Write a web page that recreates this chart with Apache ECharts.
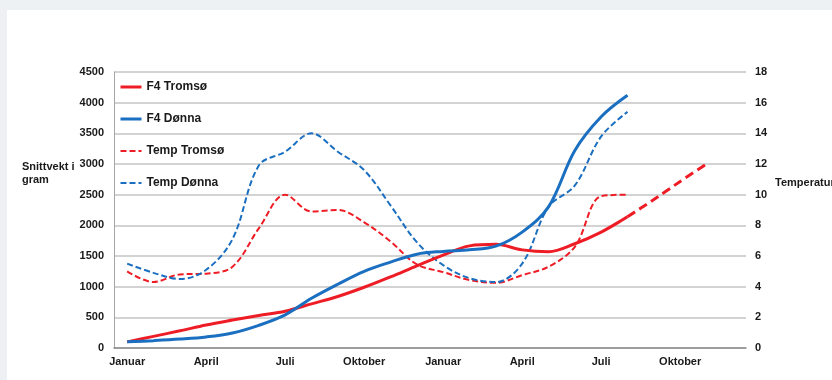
<!DOCTYPE html>
<html>
<head>
<meta charset="utf-8">
<script src="https://cdn.jsdelivr.net/npm/echarts@6/dist/echarts.min.js"></script>
<style>
  html, body { margin: 0; padding: 0; background: #eef1f4; }
  #chart { width: 832px; height: 380px; }
</style>
</head>
<body>
<div id="chart"></div>
<script>
// Two years of months along the x axis
const months = [
  'Januar', 'Februar', 'Mars', 'April', 'Mai', 'Juni', 'Juli', 'August',
  'September', 'Oktober', 'November', 'Desember',
  'Januar', 'Februar', 'Mars', 'April', 'Mai', 'Juni', 'Juli', 'August',
  'September', 'Oktober', 'November', 'Desember'
];

// Average weight (gram)
const f4Tromso = [100, 190, 280, 375, 455, 530, 600, 720, 840, 990, 1160, 1340,
                  1515, 1665, 1690, 1600, 1570, 1700, 1890, 2140];
const f4Donna  = [100, 120, 145, 180, 245, 370, 540, 810, 1040, 1250, 1400, 1530,
                  1575, 1600, 1660, 1890, 2300, 3220, 3770, 4120];
// Expected growth for Tromsø beyond the measured period
const f4TromsoPrognose = [null, null, null, null, null, null, null, null, null, null,
                          null, null, null, null, null, null, null, null, null,
                          2140, 2420, 2715, 3000];

// Sea temperature (°C)
const tempTromso = [5.0, 4.3, 4.8, 4.85, 5.3, 7.8, 10.0, 8.9, 9.0, 8.2, 6.95, 5.45,
                    4.95, 4.43, 4.25, 4.75, 5.3, 6.6, 9.9, 10.0];
const tempDonna  = [5.5, 4.9, 4.5, 5.1, 7.1, 11.9, 12.8, 14.0, 12.8, 11.6, 9.3, 6.9,
                    5.4, 4.55, 4.3, 5.5, 9.2, 10.6, 13.8, 15.4];

const weightTicks = { min: 0, max: 4500, interval: 500 };
const tempTicks = { min: 0, max: 18, interval: 2 };

const RED = '#ee1c25';
const BLUE = '#1b6fc0';
const FONT = 'Liberation Sans, Arial, sans-serif';
const TEXT = '#1a1a1a';

const chart = echarts.init(document.getElementById('chart'));

chart.setOption({
  backgroundColor: '#eef1f4',
  animation: false,
  graphic: [
    { type: 'rect', z: -10, shape: { x: 7, y: 10, width: 825, height: 370 },
      style: { fill: '#ffffff' } },
    { type: 'text', left: 22, top: 160,
      style: { text: 'Snittvekt i\ngram', font: 'bold 11px ' + FONT, fill: TEXT, lineHeight: 13 } },
    { type: 'text', left: 775, top: 177,
      style: { text: 'Temperatur', font: 'bold 11px ' + FONT, fill: TEXT } }
  ],
  grid: { left: 114, right: 86, top: 72, bottom: 32, containLabel: false },
  legend: {
    data: ['F4 Tromsø', 'F4 Dønna', 'Temp Tromsø', 'Temp Dønna'],
    orient: 'vertical',
    left: 119,
    top: 81,
    padding: 0,
    itemWidth: 21,
    itemHeight: 14,
    itemGap: 20,
    itemStyle: { opacity: 0 },
    lineStyle: { width: 'inherit' },
    textStyle: { fontFamily: FONT, fontWeight: 'bold', fontSize: 12, color: TEXT }
  },
  xAxis: {
    type: 'category',
    data: months,
    boundaryGap: true,
    axisLine: { lineStyle: { color: '#8c8c8c', width: 1.5 } },
    axisTick: { show: false },
    axisLabel: { interval: 2, margin: 8, fontFamily: FONT, fontWeight: 'bold', fontSize: 11, color: TEXT },
    splitLine: { show: false }
  },
  yAxis: [
    {
      type: 'value',
      min: weightTicks.min, max: weightTicks.max, interval: weightTicks.interval,
      position: 'left',
      axisLine: { show: true, lineStyle: { color: '#a6a6a6', width: 1 } },
      axisTick: { show: false },
      axisLabel: { margin: 10, formatter: v => String(v), fontFamily: FONT, fontWeight: 'bold', fontSize: 11, color: TEXT },
      splitLine: { lineStyle: { color: '#c4c4c4', width: 1.5 } }
    },
    {
      type: 'value',
      min: tempTicks.min, max: tempTicks.max, interval: tempTicks.interval,
      position: 'right',
      axisLine: { show: false },
      axisTick: { show: false },
      axisLabel: { margin: 9, formatter: v => String(v), fontFamily: FONT, fontWeight: 'bold', fontSize: 11, color: TEXT },
      splitLine: { show: false }
    }
  ],
  series: [
    {
      name: 'F4 Tromsø', type: 'line', yAxisIndex: 0, data: f4Tromso,
      smooth: 0.35, symbol: 'none', z: 4,
      lineStyle: { color: RED, width: 3 }, itemStyle: { color: RED }
    },
    {
      name: 'F4 Dønna', type: 'line', yAxisIndex: 0, data: f4Donna,
      smooth: 0.35, symbol: 'none', z: 4,
      lineStyle: { color: BLUE, width: 3 }, itemStyle: { color: BLUE }
    },
    {
      name: 'Temp Tromsø', type: 'line', yAxisIndex: 1, data: tempTromso,
      smooth: 0.35, symbol: 'none', z: 3,
      lineStyle: { color: RED, width: 2, type: [6, 3] }, itemStyle: { color: RED }
    },
    {
      name: 'Temp Dønna', type: 'line', yAxisIndex: 1, data: tempDonna,
      smooth: 0.35, symbol: 'none', z: 3,
      lineStyle: { color: BLUE, width: 2, type: [6, 3] }, itemStyle: { color: BLUE }
    },
    {
      name: 'F4 Tromsø prognose', type: 'line', yAxisIndex: 0, data: f4TromsoPrognose,
      smooth: 0.2, symbol: 'none', z: 4,
      lineStyle: { color: RED, width: 3, type: [9, 5] }, itemStyle: { color: RED }
    }
  ]
});
</script>
</body>
</html>
